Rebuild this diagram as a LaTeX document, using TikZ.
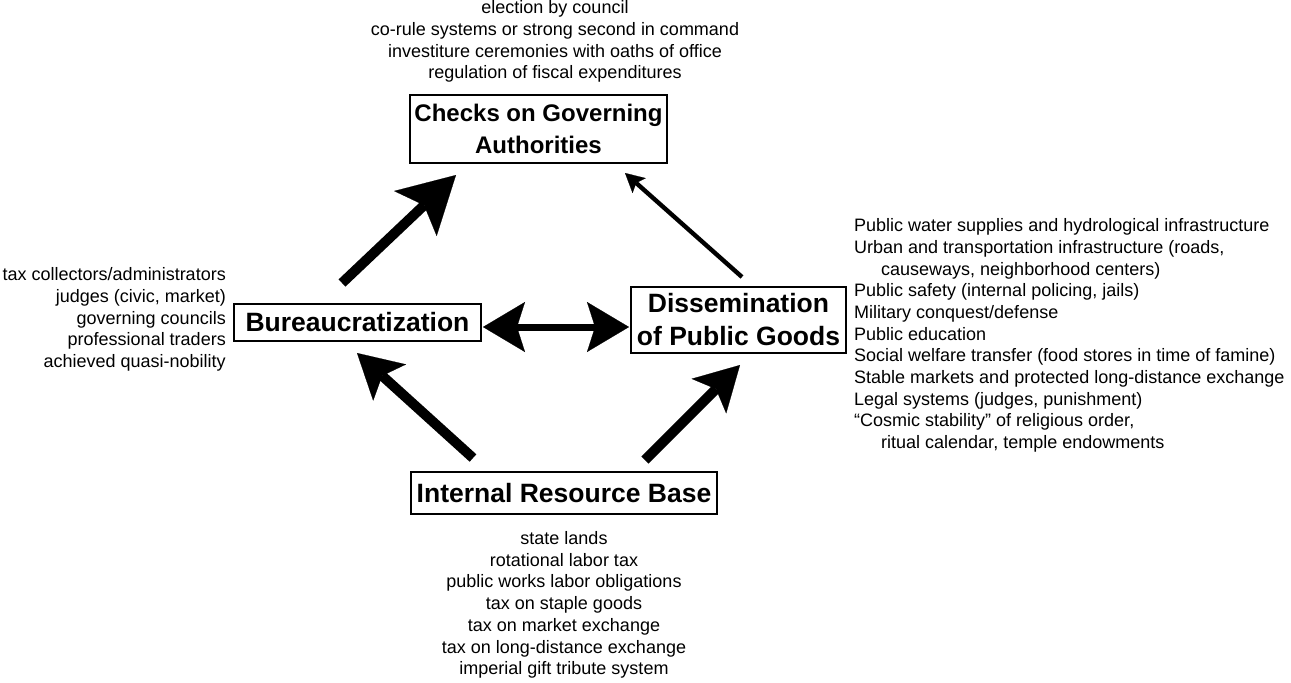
\documentclass[tikz,border=0pt]{standalone}
\usepackage{fontspec}
\setmainfont{Liberation Sans}
\usetikzlibrary{arrows.meta}

\tikzset{
	box/.style={draw, line width=0.8pt, inner sep=0pt, align=center, font=\bfseries\fontsize{13.25}{16.5}\selectfont},
	list/.style={inner sep=0pt, font=\fontsize{9}{10.85}\selectfont},
	fatarrow/.style={line width=5pt, -{Stealth[length=22pt, width=24.5pt, inset=5pt, line width=0.1pt]}},
}

\begin{document}
\begin{tikzpicture}[x=0.5pt, y=-0.5pt]
	\useasboundingbox (0,0) rectangle (1291,682);

	\node (chk)[box, minimum width=128.5pt, minimum height=34pt, font=\bfseries\fontsize{12}{16}\selectfont] at (538.5,129) {
		Checks on Governing\\Authorities};
	\node (bur)[box, minimum width=123.5pt, minimum height=18.5pt] at (357.5,322.5) {
		Bureaucratization};
	\node (dis)[box, minimum width=107.5pt, minimum height=33pt] at (738.5,320) {
		Dissemination\\of Public Goods};
	\node (irb)[box, minimum width=153pt, minimum height=21pt] at (564,493) {
		Internal Resource Base};

	\node (chkl)[list, align=center] at (555,41.5) {
		election by council\\
		co-rule systems or strong second in command\\
		investiture ceremonies with oaths of office\\
		regulation of fiscal expenditures};
	\node (burl)[list, align=right, anchor=east, xshift=-3.5pt, yshift=1.5pt] at (bur.west) {
		tax collectors/administrators\\
		judges (civic, market)\\
		governing councils\\
		professional traders\\
		achieved quasi-nobility};
	\node (disl)[list, align=left, anchor=west, xshift=3.5pt, yshift=-7.75pt] at (dis.east) {
		Public water supplies and hydrological infrastructure\\
		Urban and transportation infrastructure (roads,\\
		\hspace*{13.5pt}causeways, neighborhood centers)\\
		Public safety (internal policing, jails)\\
		Military conquest/defense\\
		Public education\\
		Social welfare transfer (food stores in time of famine)\\
		Stable markets and protected long-distance exchange\\
		Legal systems (judges, punishment)\\
		“Cosmic stability” of religious order,\\
		\hspace*{13.5pt}ritual calendar, temple endowments};
	\node (irbl)[list, align=center] at (564,605) {
		state lands\\
		rotational labor tax\\
		public works labor obligations\\
		tax on staple goods\\
		tax on market exchange\\
		tax on long-distance exchange\\
		imperial gift tribute system};

	% arrow ends, kept off the boxes
	\coordinate (bc1) at (342,283);
	\coordinate (bc2) at (456,175);
	\coordinate (dc1) at (742,277);
	\coordinate (dc2) at (625,173);
	\coordinate (bd1) at (483,327);
	\coordinate (bd2) at (629,327);
	\coordinate (ib1) at (473,458);
	\coordinate (ib2) at (357,353);
	\coordinate (id1) at (645,460);
	\coordinate (id2) at (740,365);

	\draw [fatarrow, -{Stealth[length=28pt, width=31pt, inset=6pt, line width=0.1pt]}](bc1)--(bc2);
	\draw [line width=2.2pt, -{Stealth[length=9.5pt, width=10pt, inset=2pt, line width=0.1pt]}](dc1)--(dc2);
	\draw [line width=3.5pt, {Stealth[length=21pt, width=25pt, inset=4pt, line width=0.1pt]}-{Stealth[length=21pt, width=25pt, inset=4pt, line width=0.1pt]}](bd1)--(bd2);
	\draw [fatarrow](ib1)--(ib2);
	\draw [fatarrow](id1)--(id2);
\end{tikzpicture}
\end{document}
